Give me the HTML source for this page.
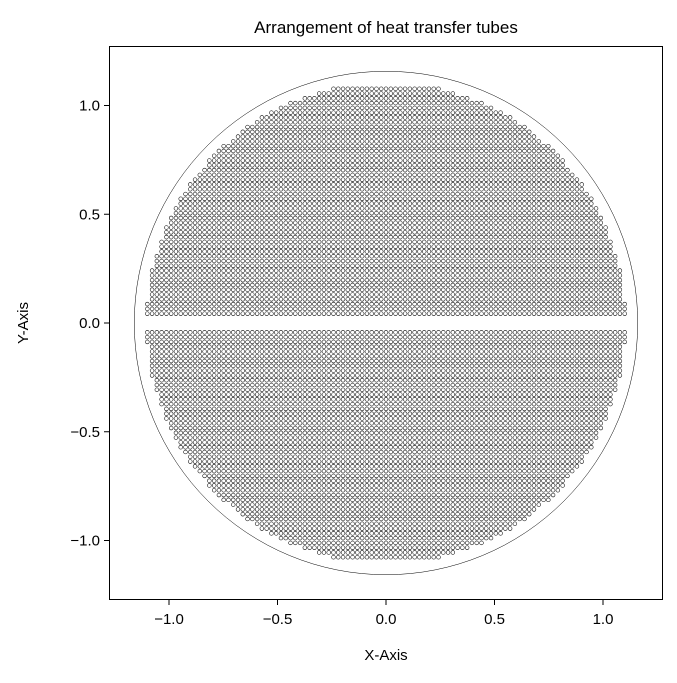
<!DOCTYPE html>
<html><head><meta charset="utf-8"><style>
body{margin:0;background:#fff;}
svg text{font-family:"Liberation Sans",sans-serif;fill:#000;}
</style></head><body>
<svg id="chart" width="677" height="678" xmlns="http://www.w3.org/2000/svg">
<rect width="677" height="678" fill="#fff"/>
<text x="386" y="33" font-size="17" text-anchor="middle">Arrangement of heat transfer tubes</text>
<g id="plot"></g>
<rect x="109.5" y="46.5" width="553" height="553" fill="none" stroke="#000" stroke-width="1"/>
<g id="axes"></g>
<text x="386" y="660" font-size="15" text-anchor="middle">X-Axis</text>
<text x="28" y="323" font-size="15" text-anchor="middle" transform="rotate(-90 28 323)">Y-Axis</text>
</svg>
<script>
const xTicks=[-1.0,-0.5,0.0,0.5,1.0];
const yTicks=[-1.0,-0.5,0.0,0.5,1.0];
const tickLabels=["\u22121.0","\u22120.5","0.0","0.5","1.0"];
const shellRadius=[1.159];
const tubePitch=[0.022];
const tubeLimit=[1.105];
const firstRowOffset=[0.043];
const rowCount=[48];

const NS="http://www.w3.org/2000/svg";
function sx(v){return 386+v*217;}
function sy(v){return 323-v*217.5;}
const plot=document.getElementById('plot');
const axes=document.getElementById('axes');

const shell=document.createElementNS(NS,'circle');


shell.setAttribute('cx',sx(0));shell.setAttribute('cy',sy(0));
shell.setAttribute('r',shellRadius[0]*217.2);
shell.setAttribute('fill','none');shell.setAttribute('stroke','#000');shell.setAttribute('stroke-width','0.5');
plot.appendChild(shell);

const p=tubePitch[0],lim=tubeLimit[0];
const tubes=document.createElementNS(NS,'g');


const kmax=Math.ceil(lim/p);
for(const s of [1,-1]){
 for(let r=0;r<rowCount[0];r++){
  const y=s*(firstRowOffset[0]+r*p);
  for(let k=-kmax;k<=kmax;k++){
   const x=k*p;
   if(Math.sqrt(x*x+y*y)>lim) continue;
   const c=document.createElementNS(NS,'circle');
   
   
   c.setAttribute('cx',sx(x).toFixed(2));c.setAttribute('cy',sy(y).toFixed(2));
   c.setAttribute('r','1.9');
   c.setAttribute('fill','#fff');c.setAttribute('stroke','#000');c.setAttribute('stroke-width','0.55');
   tubes.appendChild(c);
  }
 }
}
plot.appendChild(tubes);

xTicks.forEach((v,i)=>{
 const l=document.createElementNS(NS,'line');
 
 
 l.setAttribute('x1',sx(v));l.setAttribute('x2',sx(v));l.setAttribute('y1',600);l.setAttribute('y2',605);
 l.setAttribute('stroke','#000');
 axes.appendChild(l);
 const t=document.createElementNS(NS,'text');
 
 
 t.setAttribute('x',sx(v));t.setAttribute('y',624);t.setAttribute('font-size','15');t.setAttribute('text-anchor','middle');
 t.textContent=tickLabels[i];
 axes.appendChild(t);
});
yTicks.forEach((v,i)=>{
 const l=document.createElementNS(NS,'line');
 
 
 l.setAttribute('x1',104);l.setAttribute('x2',109);l.setAttribute('y1',sy(v));l.setAttribute('y2',sy(v));
 l.setAttribute('stroke','#000');
 axes.appendChild(l);
 const t=document.createElementNS(NS,'text');
 
 
 t.setAttribute('x',100);t.setAttribute('y',sy(v)+5);t.setAttribute('font-size','15');t.setAttribute('text-anchor','end');
 t.textContent=tickLabels[i];
 axes.appendChild(t);
});
</script>
</body></html>
